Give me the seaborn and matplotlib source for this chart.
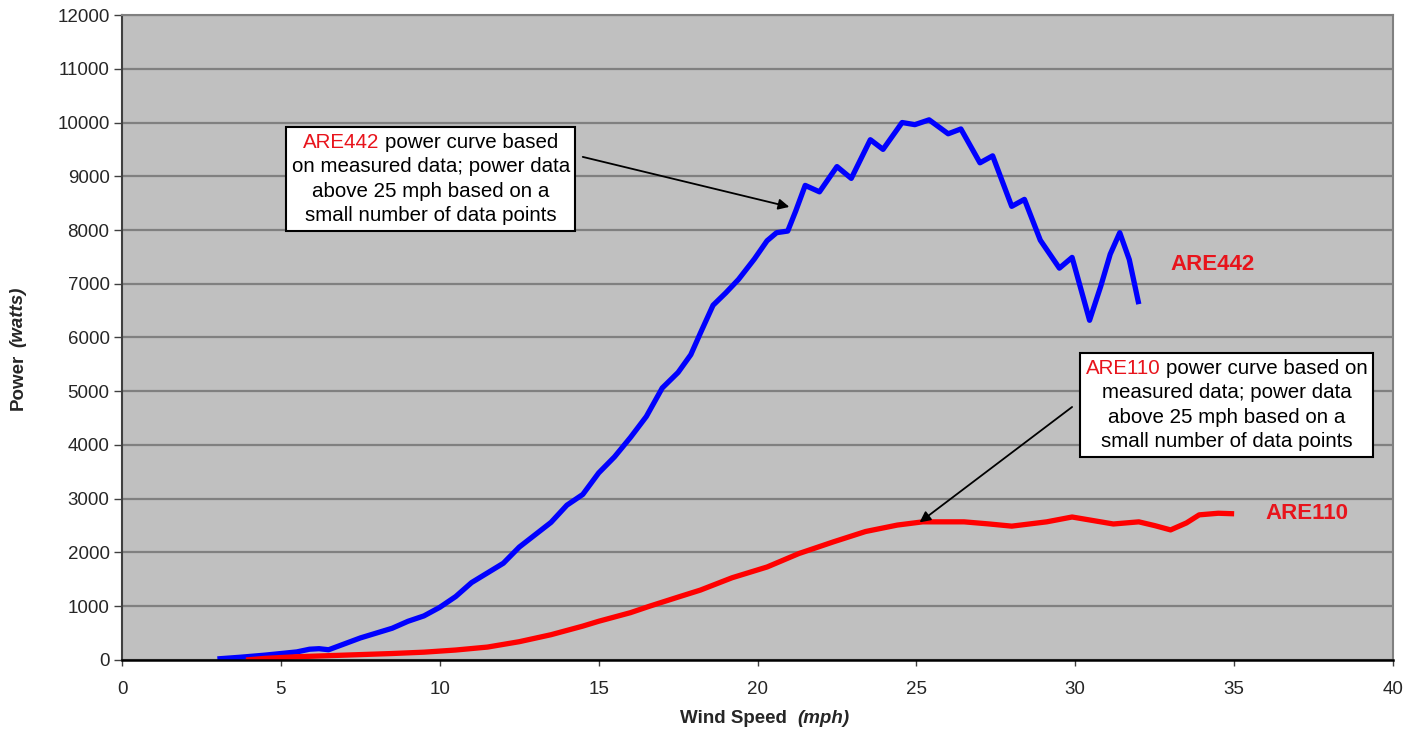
import matplotlib
matplotlib.use("Agg")
import matplotlib.pyplot as plt
import seaborn as sns
import pandas as pd
from matplotlib.offsetbox import TextArea, HPacker, VPacker, AnnotationBbox

# ARE442 measured power curve (wind speed mph, power W)
are442_speed = [3.0, 3.7, 4.5, 5.0, 5.5, 5.9, 6.2, 6.5, 7.0, 7.5, 8.0, 8.5, 9.0, 9.5,
                10.0, 10.5, 11.0, 11.5, 12.0, 12.5, 13.0, 13.5, 14.0, 14.5, 15.0,
                15.5, 16.0, 16.5, 17.0, 17.5, 17.9, 18.2, 18.6, 19.0, 19.4, 19.9,
                20.3, 20.6, 20.95, 21.2, 21.5, 21.95, 22.5, 22.95, 23.55, 23.95,
                24.55, 24.95, 25.4, 26.0, 26.4, 27.0, 27.4, 28.0, 28.4, 28.9, 29.5,
                29.9, 30.45, 30.8, 31.1, 31.4, 31.7, 32.0]
are442_power = [20, 50, 90, 120, 150, 200, 210, 190, 300, 410, 500, 590, 720, 820,
                980, 1180, 1440, 1620, 1800, 2100, 2330, 2560, 2880, 3080, 3480,
                3780, 4140, 4530, 5060, 5350, 5680, 6080, 6600, 6830, 7080, 7460,
                7800, 7950, 7980, 8350, 8830, 8710, 9180, 8960, 9680, 9500,
                10000, 9960, 10050, 9790, 9880, 9250, 9380, 8440, 8570, 7810, 7290,
                7490, 6320, 6950, 7550, 7950, 7450, 6620]

# ARE110 measured power curve
are110_speed = [3.9, 4.5, 5.5, 6.5, 7.5, 8.5, 9.5, 10.5, 11.5, 12.5, 13.5, 14.5, 15.0,
                16.0, 16.6, 17.5, 18.2, 19.2, 20.3, 21.3, 22.4, 23.4, 24.4, 25.2,
                26.5, 27.3, 28.0, 29.1, 29.9, 30.5, 31.2, 32.0, 32.5, 33.0, 33.5,
                33.9, 34.5, 35.0]
are110_power = [0, 30, 60, 80, 100, 120, 145, 185, 240, 340, 470, 630, 720,
                880, 1000, 1170, 1300, 1530, 1730, 1980, 2200, 2390, 2510, 2570,
                2570, 2530, 2490, 2570, 2660, 2600, 2530, 2570, 2500, 2420, 2550,
                2700, 2730, 2720]

x_ticks = list(range(0, 41, 5))
y_ticks = list(range(0, 12001, 1000))

df442 = pd.DataFrame({"speed": are442_speed, "power": are442_power})
df110 = pd.DataFrame({"speed": are110_speed, "power": are110_power})

sns.set_theme(style="white")
plt.rcParams["font.family"] = ["Liberation Sans", "DejaVu Sans"]

RED = "#ff0000"
LABEL_RED = "#e8141c"

fig = plt.figure(figsize=(14.21, 7.36), dpi=100)
ax = fig.add_axes([0.0859, 0.1033, 0.8944, 0.8763])
ax.set_facecolor("#c0c0c0")

sns.lineplot(data=df442, x="speed", y="power", ax=ax, color="#0000ff",
             linewidth=3.8, sort=False, estimator=None)
sns.lineplot(data=df110, x="speed", y="power", ax=ax, color=RED,
             linewidth=3.8, sort=False, estimator=None)
for ln in ax.get_lines():
    ln.set_solid_joinstyle("round")
    ln.set_solid_capstyle("butt")

ax.set_xlim(0, 40)
ax.set_ylim(0, 12000)
ax.set_xticks(x_ticks)
ax.set_yticks(y_ticks)
ax.set_xlabel("")
ax.set_ylabel("")
ax.yaxis.grid(True, color="#808080", linewidth=1.6)
ax.xaxis.grid(False)
ax.set_axisbelow(True)

ax.tick_params(axis="y", direction="out", length=6, width=1, color="#404040",
               labelsize=13.5, pad=3, left=True)
ax.tick_params(axis="x", direction="out", length=4, width=1, color="#404040",
               labelsize=13.5, pad=11, bottom=True)

for side in ["top", "right"]:
    ax.spines[side].set_color("#808080")
    ax.spines[side].set_linewidth(1.5)
ax.spines["left"].set_color("#404040")
ax.spines["left"].set_linewidth(1.5)
ax.spines["bottom"].set_color("black")
ax.spines["bottom"].set_linewidth(1.8)

# axis titles (units in italic)
ax.text(0.523, -0.090, "Wind Speed", transform=ax.transAxes, ha="right",
        va="center", fontsize=13.5, fontweight="bold")
ax.text(0.531, -0.090, "(mph)", transform=ax.transAxes, ha="left",
        va="center", fontsize=13.5, fontweight="bold", style="italic")
ax.text(-0.0818, 0.475, "Power", transform=ax.transAxes, ha="center",
        va="top", rotation=90, fontsize=13.5, fontweight="bold")
ax.text(-0.0818, 0.485, "(watts)", transform=ax.transAxes, ha="center",
        va="bottom", rotation=90, fontsize=13.5, fontweight="bold", style="italic")

# series labels
ax.text(33.0, 7350, "ARE442", color=LABEL_RED, fontsize=16, fontweight="bold",
        va="center", ha="left")
ax.text(36.0, 2720, "ARE110", color=LABEL_RED, fontsize=16, fontweight="bold",
        va="center", ha="left")


def note_box(name, first_rest, lines, center):
    tp = dict(fontsize=14.8, color="black")
    head = HPacker(children=[TextArea(name, textprops=dict(fontsize=14.8, color=LABEL_RED)),
                             TextArea(first_rest, textprops=tp)],
                   pad=0, sep=4, align="baseline")
    rows = [head] + [TextArea(t, textprops=tp) for t in lines]
    box = VPacker(children=rows, pad=0, sep=4, align="center")
    ab = AnnotationBbox(box, center, xycoords="data", box_alignment=(0.5, 0.5),
                        frameon=True, pad=0.35,
                        bboxprops=dict(edgecolor="black", linewidth=1.5,
                                       facecolor="white", boxstyle="square,pad=0.35"))
    ax.add_artist(ab)


note_box("ARE442", "power curve based",
         ["on measured data; power data", "above 25 mph based on a",
          "small number of data points"], (9.72, 8950))
note_box("ARE110", "power curve based on",
         ["measured data; power data", "above 25 mph based on a",
          "small number of data points"], (34.77, 4744))

arrow = dict(arrowstyle="-|>", color="black", lw=1.3, mutation_scale=16,
             shrinkA=0, shrinkB=0)
ax.annotate("", xy=(21.0, 8430), xytext=(14.5, 9360), arrowprops=arrow)
ax.annotate("", xy=(25.1, 2560), xytext=(29.9, 4707), arrowprops=arrow)

fig.savefig("out.png", dpi=100, facecolor="white")
